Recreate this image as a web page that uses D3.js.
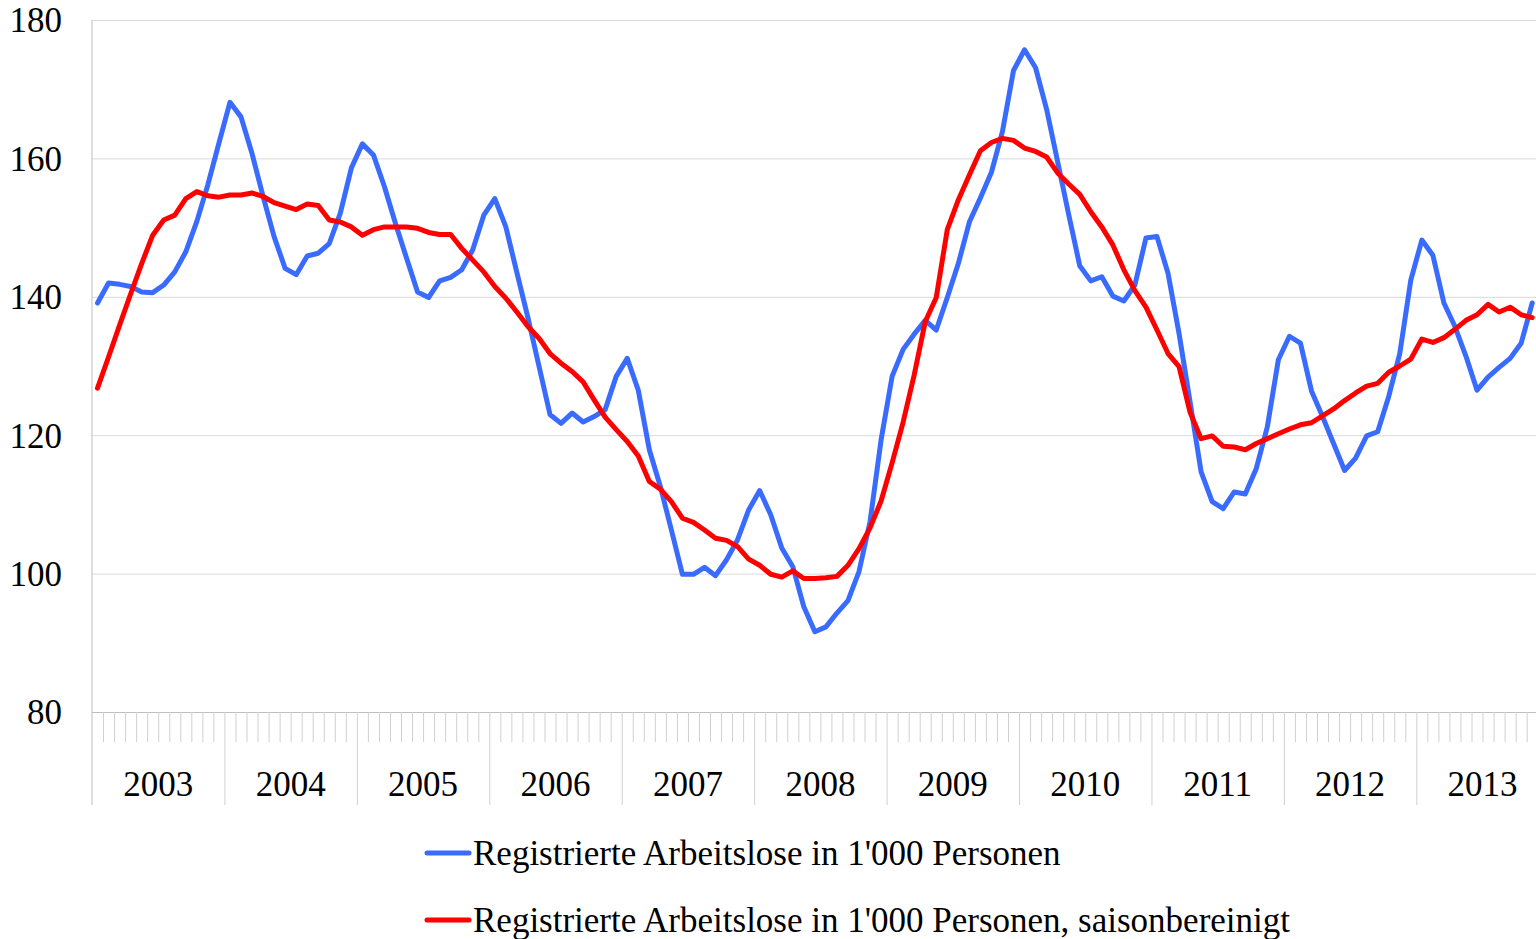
<!DOCTYPE html>
<html>
<head>
<meta charset="utf-8">
<script src="https://cdn.jsdelivr.net/npm/d3@7"></script>
<style>
  html, body { margin: 0; padding: 0; background: #fff; }
  svg { display: block; }
</style>
</head>
<body>
<div id="chart"></div>
<script>
// ─── Data: monthly values, Jan 2003 – Nov 2013 ───
const years = ["2003", "2004", "2005", "2006", "2007", "2008", "2009", "2010", "2011", "2012", "2013"];
const yTicks = [80, 100, 120, 140, 160, 180];

const seriesNames = [
  "Registrierte Arbeitslose in 1'000 Personen",
  "Registrierte Arbeitslose in 1'000 Personen, saisonbereinigt",
];

const registered = [
  139.1, 142.0, 141.8, 141.5, 140.7, 140.6, 141.7, 143.6, 146.5, 150.9, 156.2, 162.2,
  168.1, 166.0, 160.7, 154.5, 148.7, 144.1, 143.2, 145.9, 146.3, 147.7, 152.1, 158.6,
  162.1, 160.5, 155.9, 150.6, 145.6, 140.7, 139.9, 142.3, 142.8, 143.9, 146.8, 151.8,
  154.2, 150.1, 143.5, 137.0, 130.0, 123.0, 121.7, 123.2, 121.9, 122.7, 123.7, 128.5,
  131.1, 126.5, 117.9, 112.6, 106.3, 99.9, 99.9, 100.9, 99.7, 102.0, 104.9, 109.2,
  112.0, 108.5, 103.7, 101.0, 95.2, 91.6, 92.3, 94.3, 96.1, 100.3, 107.5, 119.3,
  128.5, 132.4, 134.6, 136.6, 135.2, 139.9, 144.8, 150.8, 154.3, 158.0, 163.9, 172.7,
  175.7, 173.1, 167.1, 159.5, 151.9, 144.5, 142.3, 142.9, 140.1, 139.4, 141.7, 148.5,
  148.7, 143.4, 134.7, 124.8, 114.7, 110.4, 109.4, 111.8, 111.5, 115.2, 121.2, 130.9,
  134.3, 133.3, 126.4, 122.7, 118.8, 114.9, 116.7, 119.9, 120.5, 125.6, 131.8, 142.4,
  148.2, 146.0, 139.1, 135.7, 131.4, 126.5, 128.4, 129.8, 131.1, 133.3, 139.1,
];

const seasonAdjusted = [
  126.8, 131.3, 135.9, 140.4, 144.8, 148.9, 151.1, 151.8, 154.2, 155.2, 154.6, 154.4,
  154.7, 154.7, 155.0, 154.5, 153.6, 153.1, 152.6, 153.4, 153.2, 151.1, 150.8, 150.1,
  148.9, 149.7, 150.1, 150.1, 150.1, 149.9, 149.3, 149.0, 149.0, 147.0, 145.3, 143.6,
  141.5, 139.8, 137.8, 135.7, 134.0, 131.8, 130.4, 129.2, 127.7, 125.1, 122.6, 120.8,
  119.1, 117.0, 113.3, 112.2, 110.4, 108.0, 107.4, 106.3, 105.1, 104.8, 103.9, 102.1,
  101.2, 99.9, 99.5, 100.4, 99.3, 99.3, 99.4, 99.6, 101.2, 103.6, 106.6, 110.5,
  116.0, 121.9, 128.7, 136.4, 139.9, 149.7, 154.0, 157.6, 161.1, 162.3, 162.9, 162.6,
  161.5, 161.0, 160.2, 157.9, 156.3, 154.8, 152.3, 150.1, 147.5, 143.9, 140.9, 138.5,
  135.2, 131.8, 129.9, 123.3, 119.5, 119.9, 118.4, 118.3, 117.9, 118.8, 119.5, 120.2,
  120.9, 121.5, 121.8, 122.8, 123.8, 125.0, 126.1, 127.1, 127.5, 129.1, 130.0, 131.0,
  133.9, 133.4, 134.1, 135.3, 136.6, 137.4, 138.9, 137.8, 138.5, 137.4, 137.0,
];

// ─── Layout ───
const width = 1536;
const height = 939;
const left = 92;
const monthW = 11.036;
const nMonths = registered.length;
const plotTop = 20;
const plotBottom = 712;
const FONT = "'Liberation Serif', 'Times New Roman', serif";
const BLUE = "#3A6BFF";
const RED = "#FF0000";

const svg = d3
  .select("#chart")
  .append("svg")
  .attr("width", width)
  .attr("height", height)
  .style("font-family", FONT);

const x = d3.scaleLinear().domain([0, nMonths]).range([left, left + nMonths * monthW]);
const y = d3.scaleLinear().domain([80, 180]).range([plotBottom, plotTop]);

// ── Y axis with gridlines ──
const yAxis = svg
  .append("g")
  .attr("transform", `translate(${left},0)`)
  .call(
    d3.axisLeft(y)
      .tickValues(yTicks)
      .tickSize(-(width - left))
      .tickPadding(30)
      .tickFormat(d3.format("d")),
  );
yAxis.select(".domain").remove();
yAxis.selectAll(".tick line")
  .attr("stroke", (d) => (d === 80 ? "#bfbfbf" : "#d9d9d9"))
  .attr("stroke-width", 1);
yAxis.selectAll(".tick text")
  .attr("fill", "#000")
  .style("font-size", "35px")
  .style("font-family", FONT)
  .attr("dy", "0.34em");

// vertical axis line (runs down through the category labels)
svg.append("line")
  .attr("x1", left).attr("x2", left)
  .attr("y1", plotTop).attr("y2", 805)
  .attr("stroke", "#bfbfbf")
  .attr("stroke-width", 1);

// ── X axis: monthly ticks, longer year separators ──
const xAxis = svg
  .append("g")
  .attr("transform", `translate(0,${plotBottom})`)
  .call(
    d3.axisBottom(x)
      .tickValues(d3.range(1, nMonths + 1))
      .tickSize(30)
      .tickFormat(""),
  );
xAxis.select(".domain").remove();
xAxis.selectAll(".tick line")
  .attr("stroke", "#d0d0d0")
  .attr("stroke-width", 1)
  .attr("y2", (d) => (d % 12 === 0 ? 93 : 30));

svg.append("g")
  .selectAll("text")
  .data(years)
  .join("text")
  .attr("x", (d, i) => x(i * 12 + 6))
  .attr("y", 796)
  .attr("text-anchor", "middle")
  .style("font-size", "35px")
  .attr("fill", "#000")
  .text((d) => d);

// ── Lines ──
const line = d3.line()
  .x((d, i) => x(i + 0.5))
  .y((d) => y(d));

svg.append("path")
  .datum(registered)
  .attr("fill", "none")
  .attr("stroke", BLUE)
  .attr("stroke-width", 5)
  .attr("stroke-linejoin", "round")
  .attr("stroke-linecap", "round")
  .attr("d", line);

svg.append("path")
  .datum(seasonAdjusted)
  .attr("fill", "none")
  .attr("stroke", RED)
  .attr("stroke-width", 5)
  .attr("stroke-linejoin", "round")
  .attr("stroke-linecap", "round")
  .attr("d", line);

// ── Legend ──
const legend = svg.append("g");
const legendRows = [
  { name: seriesNames[0], color: BLUE, y: 853 },
  { name: seriesNames[1], color: RED, y: 920 },
];
legendRows.forEach((r) => {
  legend.append("line")
    .attr("x1", 427).attr("x2", 469)
    .attr("y1", r.y).attr("y2", r.y)
    .attr("stroke", r.color)
    .attr("stroke-width", 5)
    .attr("stroke-linecap", "round");
  legend.append("text")
    .attr("x", 473)
    .attr("y", r.y + 12)
    .style("font-size", "35px")
    .attr("fill", "#000")
    .text(r.name);
});
</script>
</body>
</html>
